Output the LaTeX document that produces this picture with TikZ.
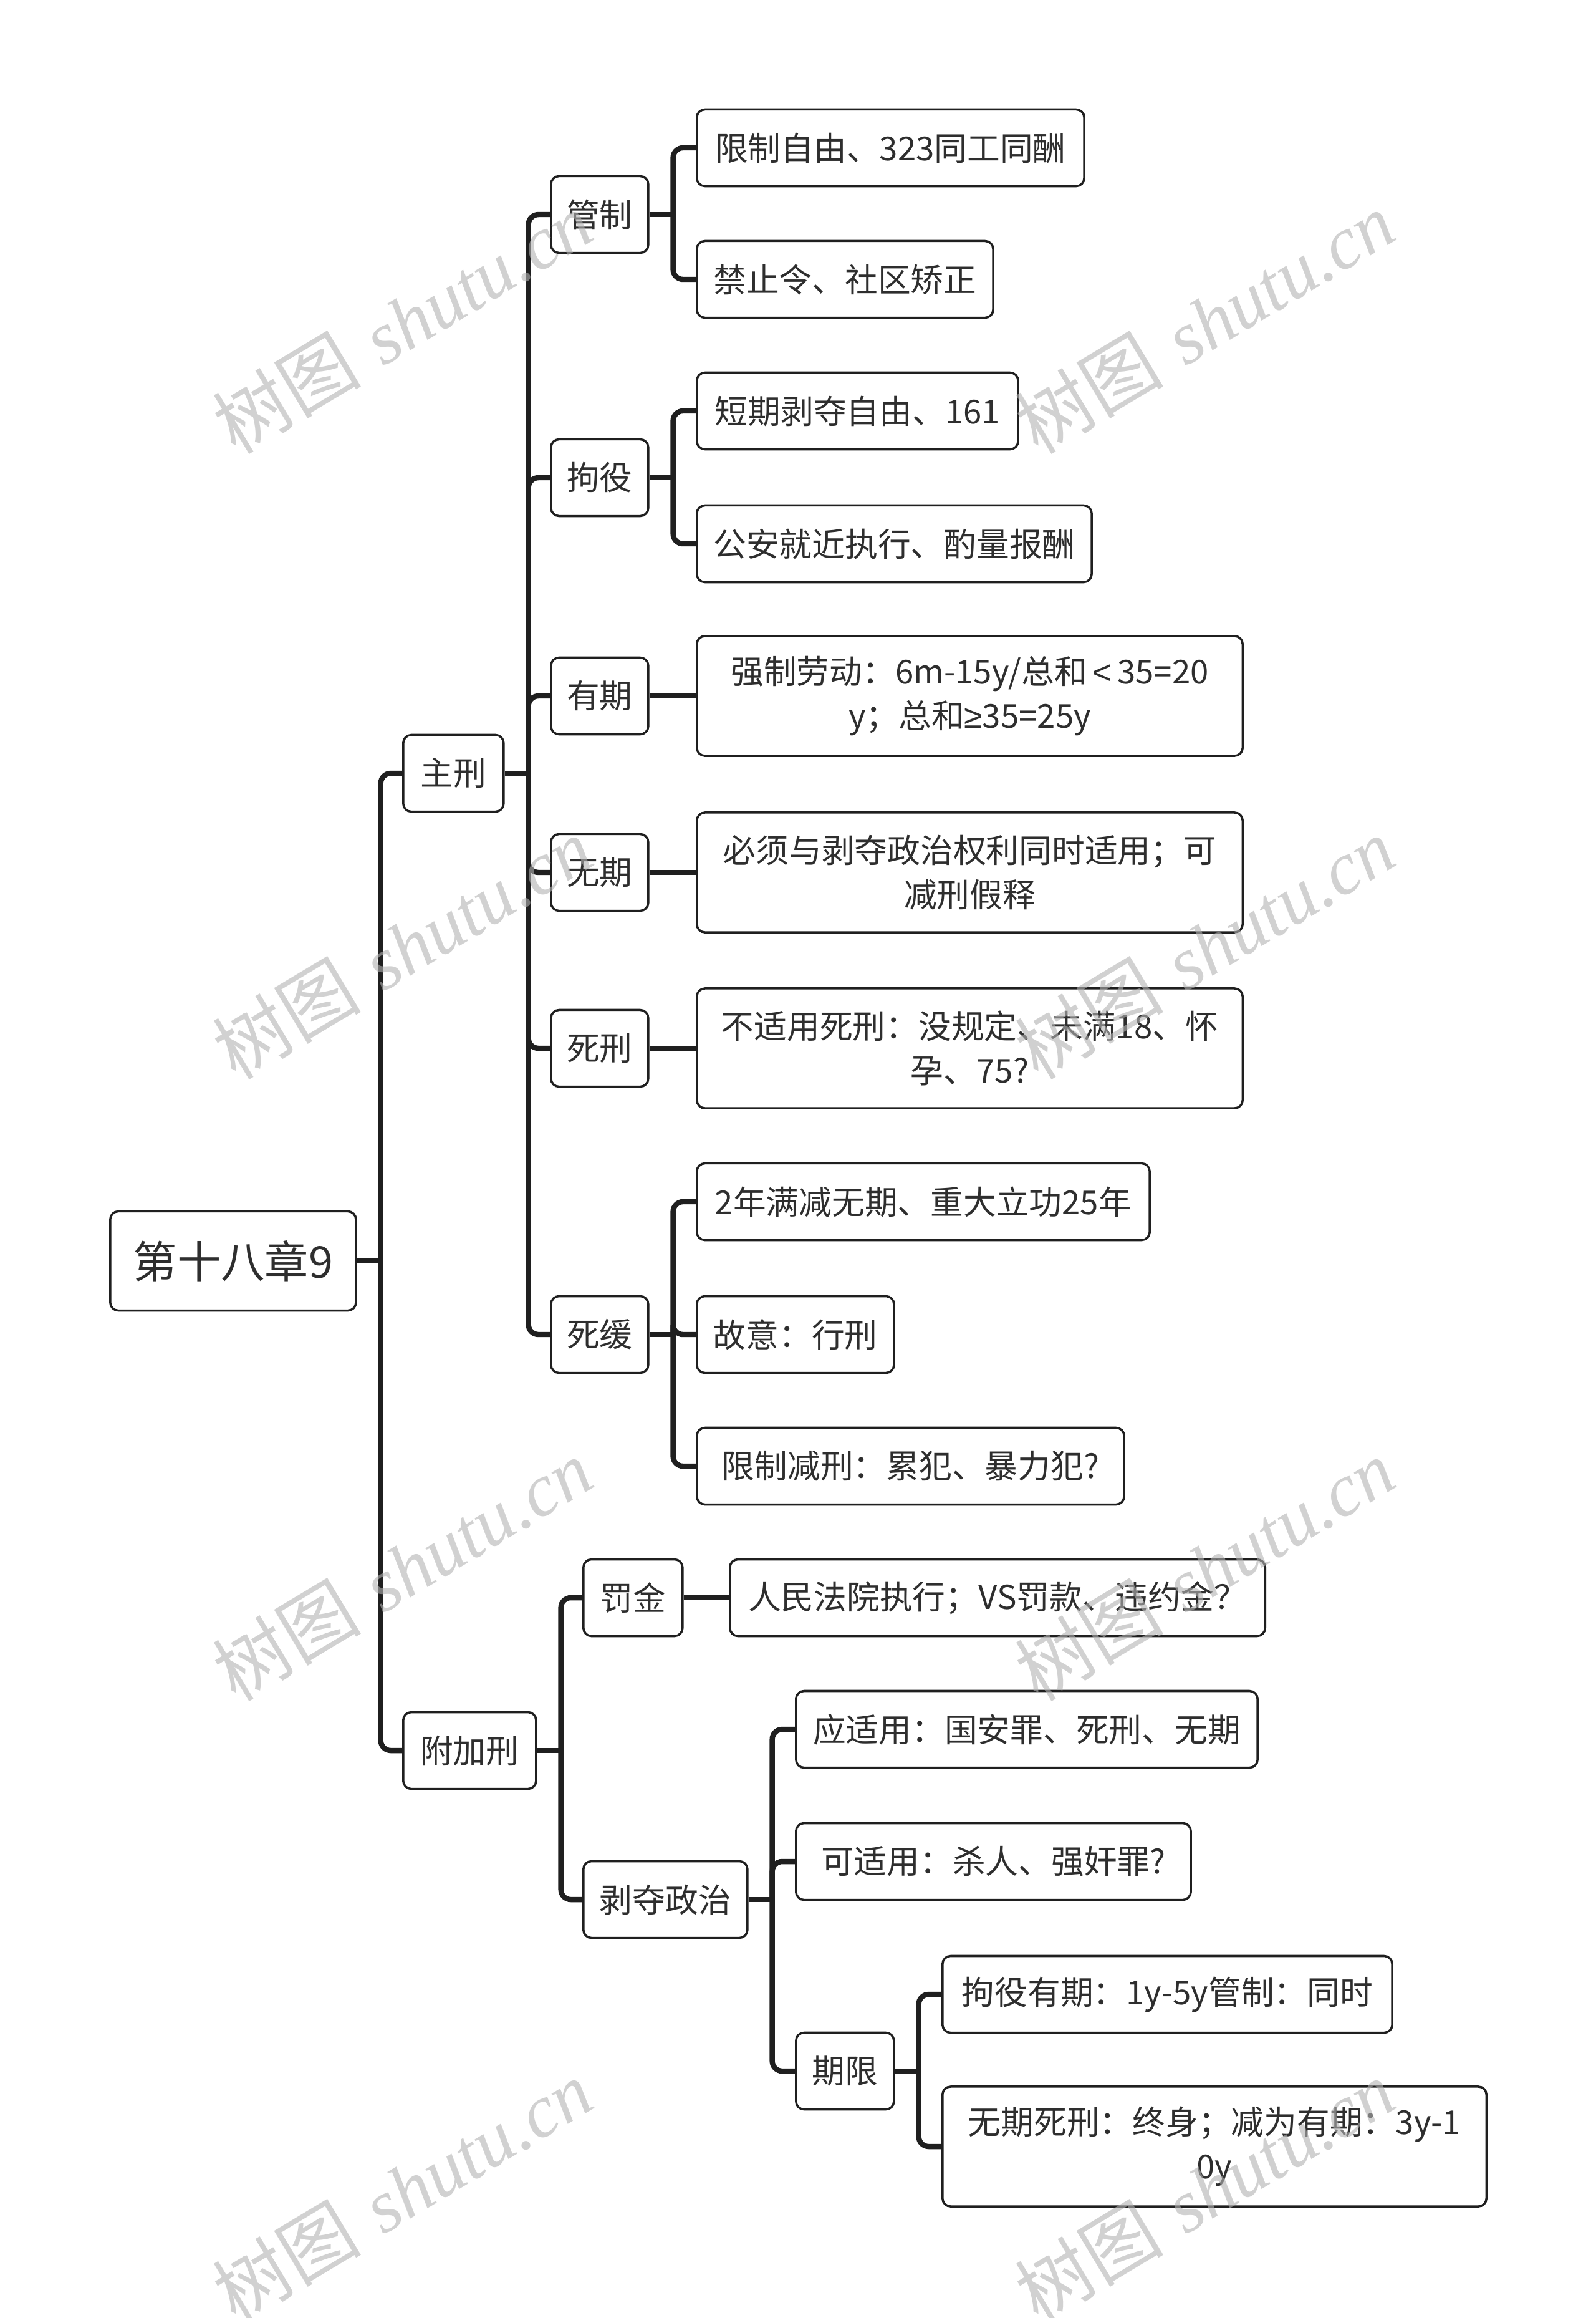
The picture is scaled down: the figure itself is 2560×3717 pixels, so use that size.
\documentclass[tikz,border=0pt]{standalone}
\usepackage{fontspec}
\newfontfamily\cjk{Noto Sans CJK SC}
\newfontfamily\wmserif{Liberation Serif}
\newfontfamily\geqfont{Liberation Sans}
\usetikzlibrary{calc}

\tikzset{
  topic/.style={draw=black!88, line width=1pt, rounded corners=0.13cm, fill=white,
    text=black!82, anchor=west, inner sep=0pt, align=center, minimum height=1.23cm,
    font=\cjk\fontsize{15}{20}\selectfont},
  twoline/.style={minimum height=1.92cm},
  link/.style={draw=black!88, line width=2.4pt, rounded corners=0.16cm},
  wmark/.style={rotate=31, text=black!30, opacity=0.6, inner sep=0pt,
    font=\fontsize{34}{34}\selectfont}
}

\begin{document}
\begin{tikzpicture}[x=0.01cm, y=-0.01cm]
\useasboundingbox (0,0) rectangle (2560,3717);
% root and main branches:
\node[topic, text width=3.94cm, minimum height=1.59cm, font=\cjk\fontsize{20}{24}\selectfont] (root) at (175,2022) {第十八章9};
\node[topic, text width=1.61cm] (zhuxing) at (645,1240) {主刑};
\node[topic, text width=2.13cm] (fujia) at (645,2807) {附加刑};
% kinds of main penalty:
\node[topic, text width=1.56cm] (guanzhi) at (882,344) {管制};
\node[topic, text width=1.56cm] (juyi) at (882,766) {拘役};
\node[topic, text width=1.56cm] (youqi) at (882,1116) {有期};
\node[topic, text width=1.56cm] (wuqi) at (882,1399) {无期};
\node[topic, text width=1.56cm] (sixing) at (882,1681) {死刑};
\node[topic, text width=1.56cm] (sihuan) at (882,2140) {死缓};
% notes on main penalty:
\node[topic, text width=6.21cm] (gz1) at (1116,237) {限制自由、323同工同酬};
\node[topic, text width=4.75cm] (gz2) at (1116,448) {禁止令、社区矫正};
\node[topic, text width=5.15cm] (jy1) at (1116,659) {短期剥夺自由、161};
\node[topic, text width=6.33cm] (jy2) at (1116,872) {公安就近执行、酌量报酬};
\node[topic, twoline, text width=8.75cm] (yq1) at (1116,1116) {强制劳动：6m-15y/总和\,{\geqfont<}\,35=20\\y；总和{\geqfont ≥}35=25y};
\node[topic, twoline, text width=8.75cm] (wq1) at (1116,1399) {必须与剥夺政治权利同时适用；可\\减刑假释};
\node[topic, twoline, text width=8.75cm] (sx1) at (1116,1681) {不适用死刑：没规定、未满18、怀\\孕、75?};
\node[topic, text width=7.26cm] (sh1) at (1116,1927) {2年满减无期、重大立功25年};
\node[topic, text width=3.16cm] (sh2) at (1116,2140) {故意：行刑};
\node[topic, text width=6.85cm] (sh3) at (1116,2351) {限制减刑：累犯、暴力犯?};
% supplementary penalty:
\node[topic, text width=1.59cm] (fajin) at (934,2562) {罚金};
\node[topic, text width=8.58cm] (fj1) at (1169,2562) {人民法院执行；VS罚款、违约金？};
\node[topic, text width=2.63cm] (boduo) at (934,3046) {剥夺政治};
\node[topic, text width=7.40cm] (bd1) at (1275,2773) {应适用：国安罪、死刑、无期};
\node[topic, text width=6.33cm] (bd2) at (1275,2985) {可适用：杀人、强奸罪?};
\node[topic, text width=1.57cm] (qixian) at (1275,3321) {期限};
\node[topic, text width=7.21cm] (qx1) at (1510,3198) {拘役有期：1y-5y管制：同时};
\node[topic, twoline, text width=8.72cm] (qx2) at (1510,3442) {无期死刑：终身；减为有期：3y-1\\0y};

% connectors:
\draw[link] (root.east) -- ++(38,0) coordinate (t0);
\foreach \n in {zhuxing,fujia} \draw[link] (t0) |- (\n.west);
\draw[link] (zhuxing.east) -- ++(38,0) coordinate (t1);
\foreach \n in {guanzhi,juyi,youqi,wuqi,sixing,sihuan} \draw[link] (t1) |- (\n.west);
\draw[link] (guanzhi.east) -- ++(38,0) coordinate (t2);
\foreach \n in {gz1,gz2} \draw[link] (t2) |- (\n.west);
\draw[link] (juyi.east) -- ++(38,0) coordinate (t3);
\foreach \n in {jy1,jy2} \draw[link] (t3) |- (\n.west);
\draw[link] (youqi) -- (yq1);
\draw[link] (wuqi) -- (wq1);
\draw[link] (sixing) -- (sx1);
\draw[link] (sihuan.east) -- ++(38,0) coordinate (t4);
\foreach \n in {sh1,sh2,sh3} \draw[link] (t4) |- (\n.west);
\draw[link] (fujia.east) -- ++(38,0) coordinate (t5);
\foreach \n in {fajin,boduo} \draw[link] (t5) |- (\n.west);
\draw[link] (fajin) -- (fj1);
\draw[link] (boduo.east) -- ++(38,0) coordinate (t6);
\foreach \n in {bd1,bd2,qixian} \draw[link] (t6) |- (\n.west);
\draw[link] (qixian.east) -- ++(38,0) coordinate (t7);
\foreach \n in {qx1,qx2} \draw[link] (t7) |- (\n.west);

% watermark:
\foreach \wx in {645,1932}
  \foreach \wy in {517,1520,2517,3513}
    \node[wmark] at (\wx,\wy) {{\cjk 树图} {\wmserif\itshape shutu.cn}};
\end{tikzpicture}
\end{document}
